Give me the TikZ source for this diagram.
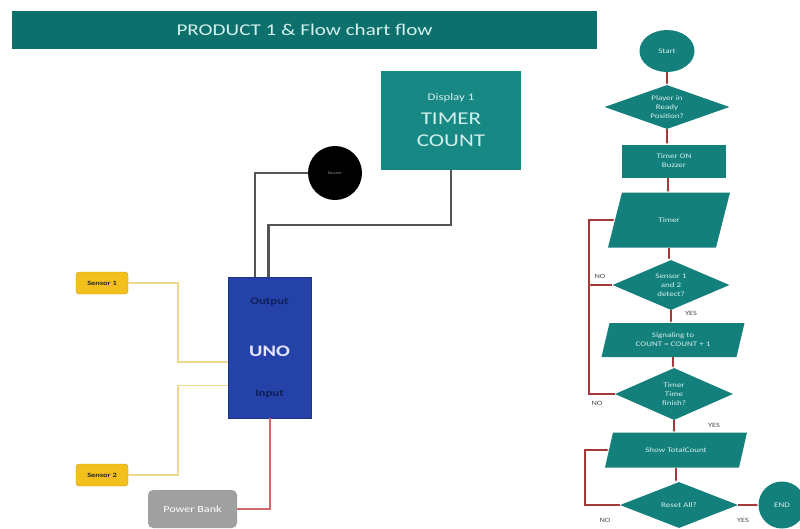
\documentclass[tikz,border=0pt]{standalone}
\usepackage{fontspec}
\setmainfont{Carlito}[FakeStretch=1.28]
\usetikzlibrary{shapes.geometric,arrows.meta}
\definecolor{titleteal}{HTML}{0D706C}
\definecolor{dispteal}{HTML}{178883}
\definecolor{flowteal}{HTML}{14807C}
\definecolor{lighttxt}{HTML}{D4EFEC}
\definecolor{unoblue}{HTML}{2442A8}
\definecolor{unotext}{HTML}{101E58}
\definecolor{sensory}{HTML}{F2BF1C}
\definecolor{wiregrey}{HTML}{555555}
\definecolor{wireyellow}{HTML}{EEDA8A}
\definecolor{wirered}{HTML}{D06A6A}
\definecolor{flowred}{HTML}{A23A3A}
\definecolor{pbgrey}{HTML}{A0A0A0}
\tikzset{
  flowfont/.style={font=\fontsize{7}{9}\selectfont},
  flowbox/.style={fill=flowteal, text=lighttxt, inner sep=0pt, align=center, flowfont},
  decis/.style={fill=flowteal, diamond, inner sep=0pt},
  ftext/.style={text=lighttxt, inner sep=0pt, align=center, flowfont},
  para/.style={inner sep=0pt, align=center, flowfont, text=lighttxt,
    path picture={\fill[flowteal] ([xshift=#1]path picture bounding box.north west) -- (path picture bounding box.north east) -- ([xshift=-#1]path picture bounding box.south east) -- (path picture bounding box.south west) -- cycle;}},
  sensorbox/.style={fill=sensory, draw=sensory!85!black, rounded corners=3pt, minimum width=52, minimum height=22, inner sep=0pt, font=\bfseries\fontsize{6.5}{7}\selectfont, text=black!85},
  greywire/.style={draw=wiregrey, line width=2.4pt},
  yelwire/.style={draw=wireyellow, line width=1.3pt},
  redwire/.style={draw=wirered, line width=1.4pt},
  flowarr/.style={draw=flowred, line width=1.1pt, -{Latex[length=3pt,width=3pt]}},
  lab/.style={font=\fontsize{6.5}{7}\selectfont, text=black!70, inner sep=0pt},
}
\begin{document}
\begin{tikzpicture}[x=1pt,y=-1pt]
\useasboundingbox[fill=white] (0,0) rectangle (800,528);
% title
\node[fill=titleteal, minimum width=585, minimum height=38, inner sep=0pt, text=lighttxt, font=\fontsize{16.5}{18}\selectfont] (title) at (304.5,30) {PRODUCT 1 \& Flow chart flow};
% display
\node[fill=dispteal, minimum width=140, minimum height=99, inner sep=0pt] (display) at (451,120.5) {};
\node[text=lighttxt, font=\fontsize{10}{11}\selectfont, inner sep=0pt] (dl1) at (451,98) {Display 1};
\node[text=lighttxt, font=\fontsize{18}{19}\selectfont, inner sep=0pt] (dl2) at (451,119) {TIMER};
\node[text=lighttxt, font=\fontsize{18}{19}\selectfont, inner sep=0pt] (dl3) at (451,141) {COUNT};
% buzzer
\node[circle, fill=black, minimum size=54, inner sep=0pt, text=black!45, font=\fontsize{4}{5}\selectfont] (buzzer) at (335,173) {Buzzer};
% UNO
\node[fill=unoblue, draw=unoblue!80!black, minimum width=83, minimum height=141, inner sep=0pt] (uno) at (269.5,347.5) {};
\node[text=unotext, font=\bfseries\fontsize{10}{11}\selectfont, inner sep=0pt] (outl) at (269.5,302) {Output};
\node[text=white!90!blue, font=\bfseries\fontsize{16}{17}\selectfont, inner sep=0pt] (unol) at (269.5,351) {UNO};
\node[text=unotext, font=\bfseries\fontsize{10}{11}\selectfont, inner sep=0pt] (inl) at (269.5,394) {Input};
% sensors
\node[sensorbox] (s1) at (102,283) {Sensor 1};
\node[sensorbox] (s2) at (102,475) {Sensor 2};
% power bank
\node[fill=pbgrey, rounded corners=5pt, minimum width=89, minimum height=38, inner sep=0pt, text=white, font=\fontsize{9.5}{10}\selectfont] (pb) at (192.5,509) {Power Bank};
% wires
\draw[greywire] (buzzer.west) -| ([xshift=-14.5pt]uno.north);
\draw[greywire] (display.south) -- ++(0,55) -| ([xshift=-1pt]uno.north);
\draw[yelwire] (s1.east) -- (178,283) |- ([yshift=-14.5pt]uno.west);
\draw[yelwire] (s2.east) -- (178,475) |- ([yshift=-38pt]uno.west);
\draw[redwire] (pb.east) -| ([xshift=0.5pt]uno.south);
% flowchart
\node[flowbox, ellipse, minimum width=55, minimum height=42] (start) at (667,51) {Start};
\node[decis, minimum width=125, minimum height=44] (d1) at (667,107) {};
\node[ftext] (d1t) at (d1.center) {Player in\\Ready\\Position?};
\node[flowbox, minimum width=104, minimum height=33] (ton) at (674,161) {Timer ON\\Buzzer};
\node[para=14pt, minimum width=122, minimum height=55] (timer) at (669,220) {Timer};
\node[decis, minimum width=117, minimum height=50] (d2) at (671,285) {};
\node[ftext] (d2t) at (d2.center) {Sensor 1\\and 2\\detect?};
\node[para=8pt, minimum width=143, minimum height=34] (sig) at (673,340) {Signaling to\\COUNT = COUNT + 1};
\node[decis, minimum width=118, minimum height=52] (d3) at (674,394) {};
\node[ftext] (d3t) at (d3.center) {Timer\\Time\\finish?};
\node[para=8pt, minimum width=142, minimum height=35] (show) at (676,450) {Show TotalCount};
\node[decis, minimum width=118, minimum height=46] (d4) at (679,505) {};
\node[ftext] (d4t) at (d4.center) {Reset All?};
\node[flowbox, circle, minimum size=47] (end) at (782,505) {END};
% flow arrows
\draw[flowarr] (start.south) -- (start.south |- d1.north);
\draw[flowarr] (d1.south) -- (d1.south |- ton.north);
\draw[flowarr] ([xshift=-6pt]ton.south) -- ([xshift=-6pt]ton.south |- timer.north);
\draw[flowarr] (timer.south) -- (timer.south |- d2.north);
\draw[flowarr] (d2.south) -- (d2.south |- sig.north);
\draw[flowarr] (sig.south) -- (sig.south |- d3.north);
\draw[flowarr] (d3.south) -- (d3.south |- show.north);
\draw[flowarr] (show.south) -- (show.south |- d4.north);
\draw[flowarr] (d4.east) -- (end.west);
% loops
\coordinate (loopx) at (589,0);
\draw[flowarr] (d2.west) -- (d2.west -| loopx);
\draw[flowarr] (d3.west) -- (d3.west -| loopx) -- (timer.west -| loopx) -- ([xshift=7pt]timer.west);
\coordinate (loopy) at (585,0);
\draw[flowarr] (d4.west) -- (d4.west -| loopy) |- ([xshift=4pt]show.west);
% labels
\node[lab] (no1) at (600,276) {NO};
\node[lab] (yes1) at (691,313) {YES};
\node[lab] (no2) at (597,403) {NO};
\node[lab] (yes2) at (714,425) {YES};
\node[lab] (no3) at (605,520) {NO};
\node[lab] (yes3) at (743,520) {YES};
\end{tikzpicture}
\end{document}
